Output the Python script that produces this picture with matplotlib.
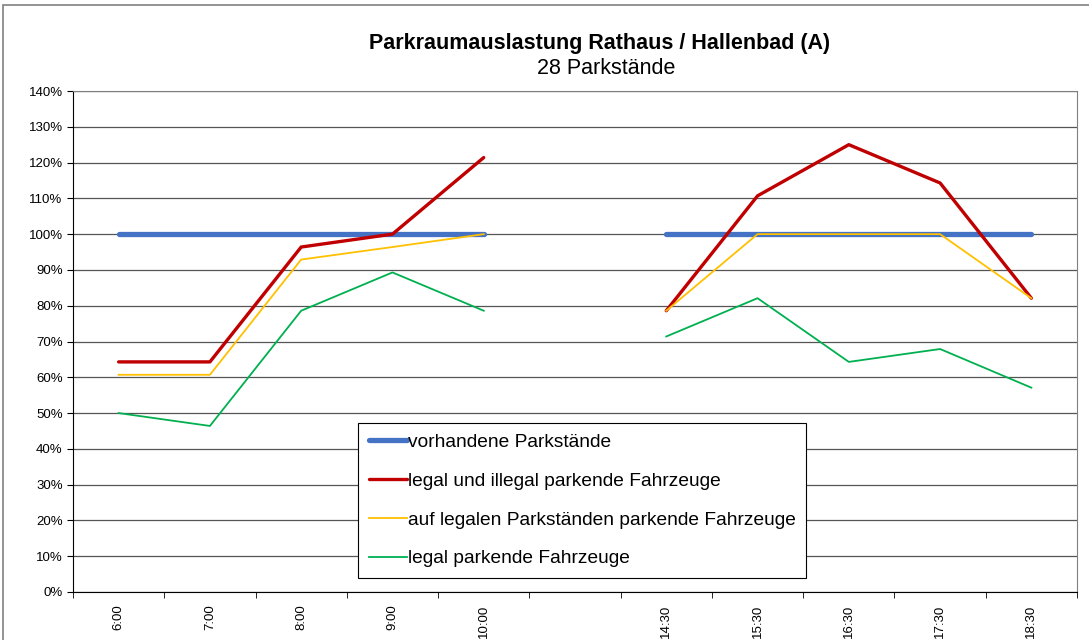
import matplotlib
matplotlib.use('Agg')
import matplotlib.pyplot as plt
import numpy as np
from matplotlib.patches import Rectangle
from matplotlib.ticker import FixedLocator, PercentFormatter

plt.rcParams['font.family'] = ['Liberation Sans', 'DejaVu Sans']

# time slots (empty slot between morning and afternoon counts)
times = ['6:00', '7:00', '8:00', '9:00', '10:00', '',
         '14:30', '15:30', '16:30', '17:30', '18:30']
nan = np.nan
vorhanden = [100, 100, 100, 100, 100, nan, 100, 100, 100, 100, 100]
legal_illegal = [64.3, 64.3, 96.4, 100, 121.4, nan, 78.6, 110.7, 125.0, 114.3, 82.1]
auf_legalen = [60.7, 60.7, 92.9, 96.4, 100, nan, 78.6, 100, 100, 100, 82.1]
legal = [50.0, 46.4, 78.6, 89.3, 78.6, nan, 71.4, 82.1, 64.3, 67.9, 57.1]

fig = plt.figure(figsize=(10.89, 6.40), dpi=100)
ax = fig.add_axes([73/1089, 48/640, 1004/1089, 501/640])

x = np.arange(len(times))
ax.plot(x, vorhanden, color='#4472C4', lw=3.8, solid_capstyle='round', label='vorhandene Parkstände')
ax.plot(x, legal_illegal, color='#C00000', lw=2.4, solid_capstyle='round', label='legal und illegal parkende Fahrzeuge')
ax.plot(x, auf_legalen, color='#FFC000', lw=1.3, label='auf legalen Parkständen parkende Fahrzeuge')
ax.plot(x, legal, color='#00B050', lw=1.3, label='legal parkende Fahrzeuge')

ax.set_xlim(-0.5, len(times) - 0.5)
ax.set_ylim(0, 140)
ax.set_yticks(np.arange(0, 141, 10))
ax.yaxis.set_major_formatter(PercentFormatter(decimals=0))
ax.grid(axis='y', color='#555555', lw=0.9)
ax.set_axisbelow(True)

ax.set_xticks(x)
ax.set_xticklabels(times, rotation=90, fontsize=9.5)
ax.xaxis.set_minor_locator(FixedLocator(np.arange(-0.5, len(times), 1)))
ax.tick_params(axis='x', which='major', length=0, pad=9)
ax.tick_params(axis='x', which='minor', length=4, direction='out')
ax.tick_params(axis='y', labelsize=9.5, length=4, direction='out')

for side in ['top', 'right']:
    ax.spines[side].set_color('#808080')
for side in ['left', 'bottom']:
    ax.spines[side].set_color('black')

leg = ax.legend(loc='lower left', bbox_to_anchor=(0.284, 0.028), fontsize=13.8,
                frameon=True, fancybox=False, edgecolor='black', framealpha=1,
                handlelength=2.0, handletextpad=0.05, labelspacing=1.12,
                borderpad=0.55, borderaxespad=0)
leg.get_frame().set_linewidth(0.8)

fig.text(600/1089, 1 - 44/640, 'Parkraumauslastung Rathaus / Hallenbad (A)',
         ha='center', va='center', fontsize=15.5, fontweight='bold')
fig.text(606/1089, 1 - 69/640, '28 Parkstände', ha='center', va='center', fontsize=15.5)

# outer chart frame
fig.patches.append(Rectangle((3/1089, -0.1), 1.2, 1 - 5/640 + 0.1, transform=fig.transFigure,
                             fill=False, edgecolor='#808080', lw=1.2))

fig.savefig('out.png', dpi=100)
